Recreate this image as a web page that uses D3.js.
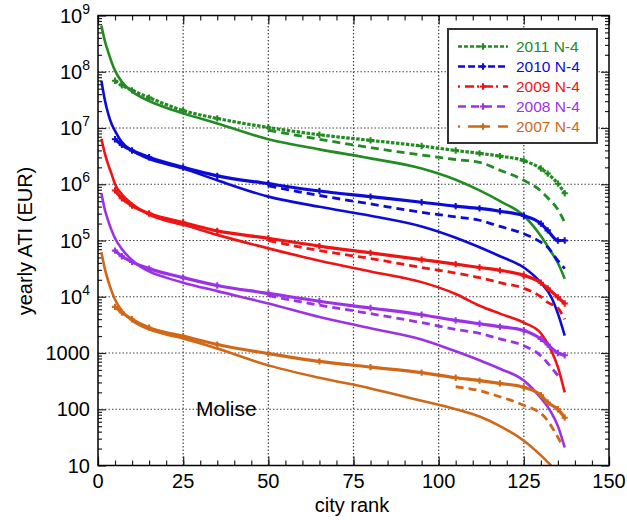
<!DOCTYPE html>
<html>
<head>
<meta charset="utf-8">
<script src="https://cdn.jsdelivr.net/npm/d3@7"></script>
<style>
  html, body { margin: 0; padding: 0; background: #fff; }
  svg { display: block; font-family: "Liberation Sans", Arial, Helvetica, sans-serif; }
</style>
</head>
<body>
<svg id="chart" width="627" height="520"></svg>
<script>
// Rank-size curves of yearly ATI for the cities of Molise, one decade apart per year.
const years = ["2011 N-4", "2010 N-4", "2009 N-4", "2008 N-4", "2007 N-4"];
const colors = ["#228b22", "#0c0cd6", "#ee1414", "#9b32e6", "#d06818"];

// Ranks at which each curve is sampled
const ranksSolid = [1, 2, 3, 4, 5, 7, 10, 15, 20, 25, 35, 50, 65, 80, 95, 105, 112, 118, 125, 130, 133, 135, 137];
const ranksMarked = [5, 7, 10, 15, 25, 35, 50, 65, 80, 95, 105, 112, 118, 125, 130, 132, 135, 137];
const ranksDashed = [50, 65, 80, 95, 105, 112, 118, 125, 130, 132, 135, 137];

// log10 of yearly ATI (EUR), solid curves
const solid2011 = [8.82, 8.55, 8.35, 8.17, 8.02, 7.82, 7.65, 7.48, 7.36, 7.26, 7.08, 6.80, 6.62, 6.46, 6.28, 6.08, 5.89, 5.70, 5.44, 5.08, 4.80, 4.60, 4.32];
const solid2010 = [7.84, 7.50, 7.25, 7.07, 6.95, 6.75, 6.60, 6.45, 6.36, 6.28, 6.07, 5.78, 5.60, 5.44, 5.25, 5.05, 4.88, 4.72, 4.52, 4.25, 4.00, 3.70, 3.31];
const solid2009 = [6.81, 6.55, 6.35, 6.18, 6.00, 5.82, 5.65, 5.46, 5.35, 5.28, 5.10, 4.86, 4.64, 4.45, 4.26, 4.05, 3.84, 3.70, 3.54, 3.35, 3.05, 2.75, 2.30];
const solid2008 = [5.84, 5.55, 5.35, 5.18, 5.04, 4.85, 4.65, 4.45, 4.34, 4.25, 4.10, 3.88, 3.64, 3.44, 3.24, 3.03, 2.87, 2.72, 2.51, 2.20, 1.95, 1.70, 1.32];
const solid2007 = [4.79, 4.50, 4.28, 4.10, 3.95, 3.75, 3.58, 3.42, 3.33, 3.26, 3.08, 2.78, 2.56, 2.37, 2.15, 2.00, 1.87, 1.70, 1.44, 1.18, 1.00];

// log10 of yearly ATI (EUR), marked curves
const marked2011 = [7.84, 7.76, 7.67, 7.54, 7.31, 7.17, 7.01, 6.88, 6.78, 6.68, 6.60, 6.55, 6.50, 6.42, 6.28, 6.19, 6.01, 5.84];
const marked2010 = [6.80, 6.70, 6.60, 6.48, 6.30, 6.15, 6.01, 5.88, 5.78, 5.68, 5.61, 5.57, 5.52, 5.44, 5.30, 5.18, 5.00, 5.00];
const marked2009 = [5.89, 5.75, 5.62, 5.48, 5.32, 5.17, 5.04, 4.90, 4.78, 4.66, 4.58, 4.52, 4.47, 4.38, 4.25, 4.15, 3.99, 3.88];
const marked2008 = [4.82, 4.72, 4.62, 4.50, 4.34, 4.20, 4.06, 3.92, 3.80, 3.68, 3.58, 3.52, 3.47, 3.40, 3.25, 3.15, 3.00, 2.96];
const marked2007 = [3.82, 3.72, 3.60, 3.45, 3.30, 3.15, 2.99, 2.85, 2.75, 2.65, 2.56, 2.51, 2.46, 2.39, 2.25, 2.12, 2.00, 1.85];

// log10 of yearly ATI (EUR), dashed curves
const dashed2011 = [6.96, 6.80, 6.65, 6.52, 6.44, 6.39, 6.25, 6.07, 5.88, 5.76, 5.55, 5.32];
const dashed2010 = [5.97, 5.80, 5.65, 5.50, 5.42, 5.36, 5.25, 5.12, 4.97, 4.88, 4.64, 4.50];
const dashed2009 = [5.00, 4.82, 4.68, 4.52, 4.42, 4.34, 4.25, 4.15, 4.00, 3.90, 3.80, 3.60];
const dashed2008 = [4.02, 3.85, 3.70, 3.54, 3.42, 3.35, 3.25, 3.13, 2.95, 2.82, 2.60];
const ranksDashed2007 = [105, 112, 117, 125, 131, 136];
const dashed2007 = [2.40, 2.33, 2.24, 2.07, 1.87, 1.39];

const xTicks = [0, 25, 50, 75, 100, 125, 150];
const yTicks = [1e1, 1e2, 1e3, 1e4, 1e5, 1e6, 1e7, 1e8, 1e9];
const yTickLabels = ["10", "100", "1000", "10^4", "10^5", "10^6", "10^7", "10^8", "10^9"];
const legendDash = ["4,2", "7,3", "2,5,9,3", "8,5", "2,8,20,0"];
const markedDash = ["3.5,1.5", null, null, null, null];

const solids = [solid2011, solid2010, solid2009, solid2008, solid2007];
const markeds = [marked2011, marked2010, marked2009, marked2008, marked2007];
const dasheds = [dashed2011, dashed2010, dashed2009, dashed2008, dashed2007];

const svg = d3.select("#chart");
const pLeft = 98, pRight = 609, pTop = 15.5, pBottom = 465.5;
const x = d3.scaleLinear().domain([0, 150]).range([pLeft, pRight]);
const y = d3.scaleLog().domain([10, 1e9]).range([pBottom, pTop]);

const defs = svg.append("defs");
defs.append("clipPath").attr("id", "plotClip")
  .append("rect").attr("x", pLeft).attr("y", pTop).attr("width", pRight - pLeft).attr("height", pBottom - pTop);

// dotted grid
const grid = svg.append("g").attr("stroke", "#444").attr("stroke-width", 1.2).attr("stroke-dasharray", "1.5,2");
xTicks.slice(1, -1).forEach(t => grid.append("line").attr("x1", x(t)).attr("x2", x(t)).attr("y1", pTop).attr("y2", pBottom));
yTicks.slice(1, -1).forEach(t => grid.append("line").attr("x1", pLeft).attr("x2", pRight).attr("y1", y(t)).attr("y2", y(t)));

// ticks on all four sides, pointing inward
const xMinor = d3.range(0, 151, 5);
const yMinor = [];
for (let e = 1; e < 9; e++) for (let m = 2; m <= 9; m++) yMinor.push(m * Math.pow(10, e));
const noText = g => g.call(s => s.selectAll("text").remove()).call(s => s.select(".domain").remove());

svg.append("g").attr("transform", `translate(0,${pBottom})`).call(d3.axisBottom(x).tickValues(xMinor).tickSize(-5)).call(noText);
svg.append("g").attr("transform", `translate(0,${pTop})`).call(d3.axisTop(x).tickValues(xMinor).tickSize(-5)).call(noText);
svg.append("g").attr("transform", `translate(0,${pBottom})`).call(d3.axisBottom(x).tickValues(xTicks).tickSize(-9)).call(noText);
svg.append("g").attr("transform", `translate(0,${pTop})`).call(d3.axisTop(x).tickValues(xTicks).tickSize(-9)).call(noText);
svg.append("g").attr("transform", `translate(${pLeft},0)`).call(d3.axisLeft(y).tickValues(yMinor).tickSize(-4)).call(noText);
svg.append("g").attr("transform", `translate(${pRight},0)`).call(d3.axisRight(y).tickValues(yMinor).tickSize(-4)).call(noText);
svg.append("g").attr("transform", `translate(${pLeft},0)`).call(d3.axisLeft(y).tickValues(yTicks).tickSize(-8)).call(noText);
svg.append("g").attr("transform", `translate(${pRight},0)`).call(d3.axisRight(y).tickValues(yTicks).tickSize(-8)).call(noText);
svg.selectAll(".tick line").attr("stroke", "#222").attr("stroke-width", 1.2);

// curves
const line = d3.line().x(d => x(d[0])).y(d => y(Math.pow(10, d[1]))).curve(d3.curveMonotoneX);
const plot = svg.append("g").attr("clip-path", "url(#plotClip)");
const pairs = (ranks, vals) => vals.map((v, i) => [ranks[i], v]);

years.forEach((yr, i) => {
  const dr = i === 4 ? ranksDashed2007 : ranksDashed;
  plot.append("path").datum(pairs(dr, dasheds[i]))
    .attr("d", line).attr("fill", "none").attr("stroke", colors[i])
    .attr("stroke-width", 2.8).attr("stroke-dasharray", "8,5");
  const mk = pairs(ranksMarked, markeds[i]);
  plot.append("path").datum(mk)
    .attr("d", line).attr("fill", "none").attr("stroke", colors[i])
    .attr("stroke-width", 3.2).attr("stroke-dasharray", markedDash[i]);
  // small cross markers on the sampled points of the marked curve
  plot.append("g").selectAll("path").data(mk).join("path")
    .attr("transform", d => `translate(${x(d[0])},${y(Math.pow(10, d[1]))})`)
    .attr("d", d3.symbol(d3.symbolCross, 22))
    .attr("fill", colors[i]);
  plot.append("path").datum(pairs(ranksSolid, solids[i]))
    .attr("d", line).attr("fill", "none").attr("stroke", colors[i])
    .attr("stroke-width", 2.6);
});

// frame
svg.append("rect").attr("x", pLeft).attr("y", pTop).attr("width", pRight - pLeft).attr("height", pBottom - pTop)
  .attr("fill", "none").attr("stroke", "#000").attr("stroke-width", 1.5);

// tick labels
svg.append("g").selectAll("text").data(xTicks).join("text")
  .attr("x", d => x(d)).attr("y", 488).attr("text-anchor", "middle")
  .attr("font-size", 20).text(d => d);

const yl = svg.append("g").selectAll("text").data(yTicks).join("text")
  .attr("x", 90).attr("y", d => y(d) + 7).attr("text-anchor", "end").attr("font-size", 20);
yl.each(function (d, i) {
  const lab = yTickLabels[i];
  const t = d3.select(this);
  if (lab.includes("^")) {
    const [b, e] = lab.split("^");
    t.append("tspan").text(b);
    t.append("tspan").attr("font-size", 14).attr("dy", -9).text(e);
  } else {
    t.text(lab);
  }
});

// axis titles
svg.append("text").attr("x", 352).attr("y", 512).attr("text-anchor", "middle").attr("font-size", 20).text("city rank");
svg.append("text").attr("transform", "translate(32,241) rotate(-90)").attr("text-anchor", "middle")
  .attr("font-size", 20).text("yearly ATI (EUR)");

svg.append("text").attr("x", 196).attr("y", 416).attr("font-size", 21).text("Molise");

// legend
const lg = svg.append("g");
lg.append("rect").attr("x", 448).attr("y", 29).attr("width", 149).attr("height", 114)
  .attr("fill", "#fff").attr("stroke", "#333").attr("stroke-width", 2);
years.forEach((yr, i) => {
  const yy = 46.5 + i * 20;
  lg.append("line").attr("x1", 458).attr("x2", 508).attr("y1", yy).attr("y2", yy)
    .attr("stroke", colors[i]).attr("stroke-width", 2.5).attr("stroke-dasharray", legendDash[i]);
  lg.append("path").attr("transform", `translate(483,${yy})`)
    .attr("d", d3.symbol(d3.symbolCross, 22)).attr("fill", colors[i]);
  lg.append("text").attr("x", 516).attr("y", yy + 5.5).attr("font-size", 15.5).attr("fill", colors[i]).text(yr);
});
</script>
</body>
</html>
